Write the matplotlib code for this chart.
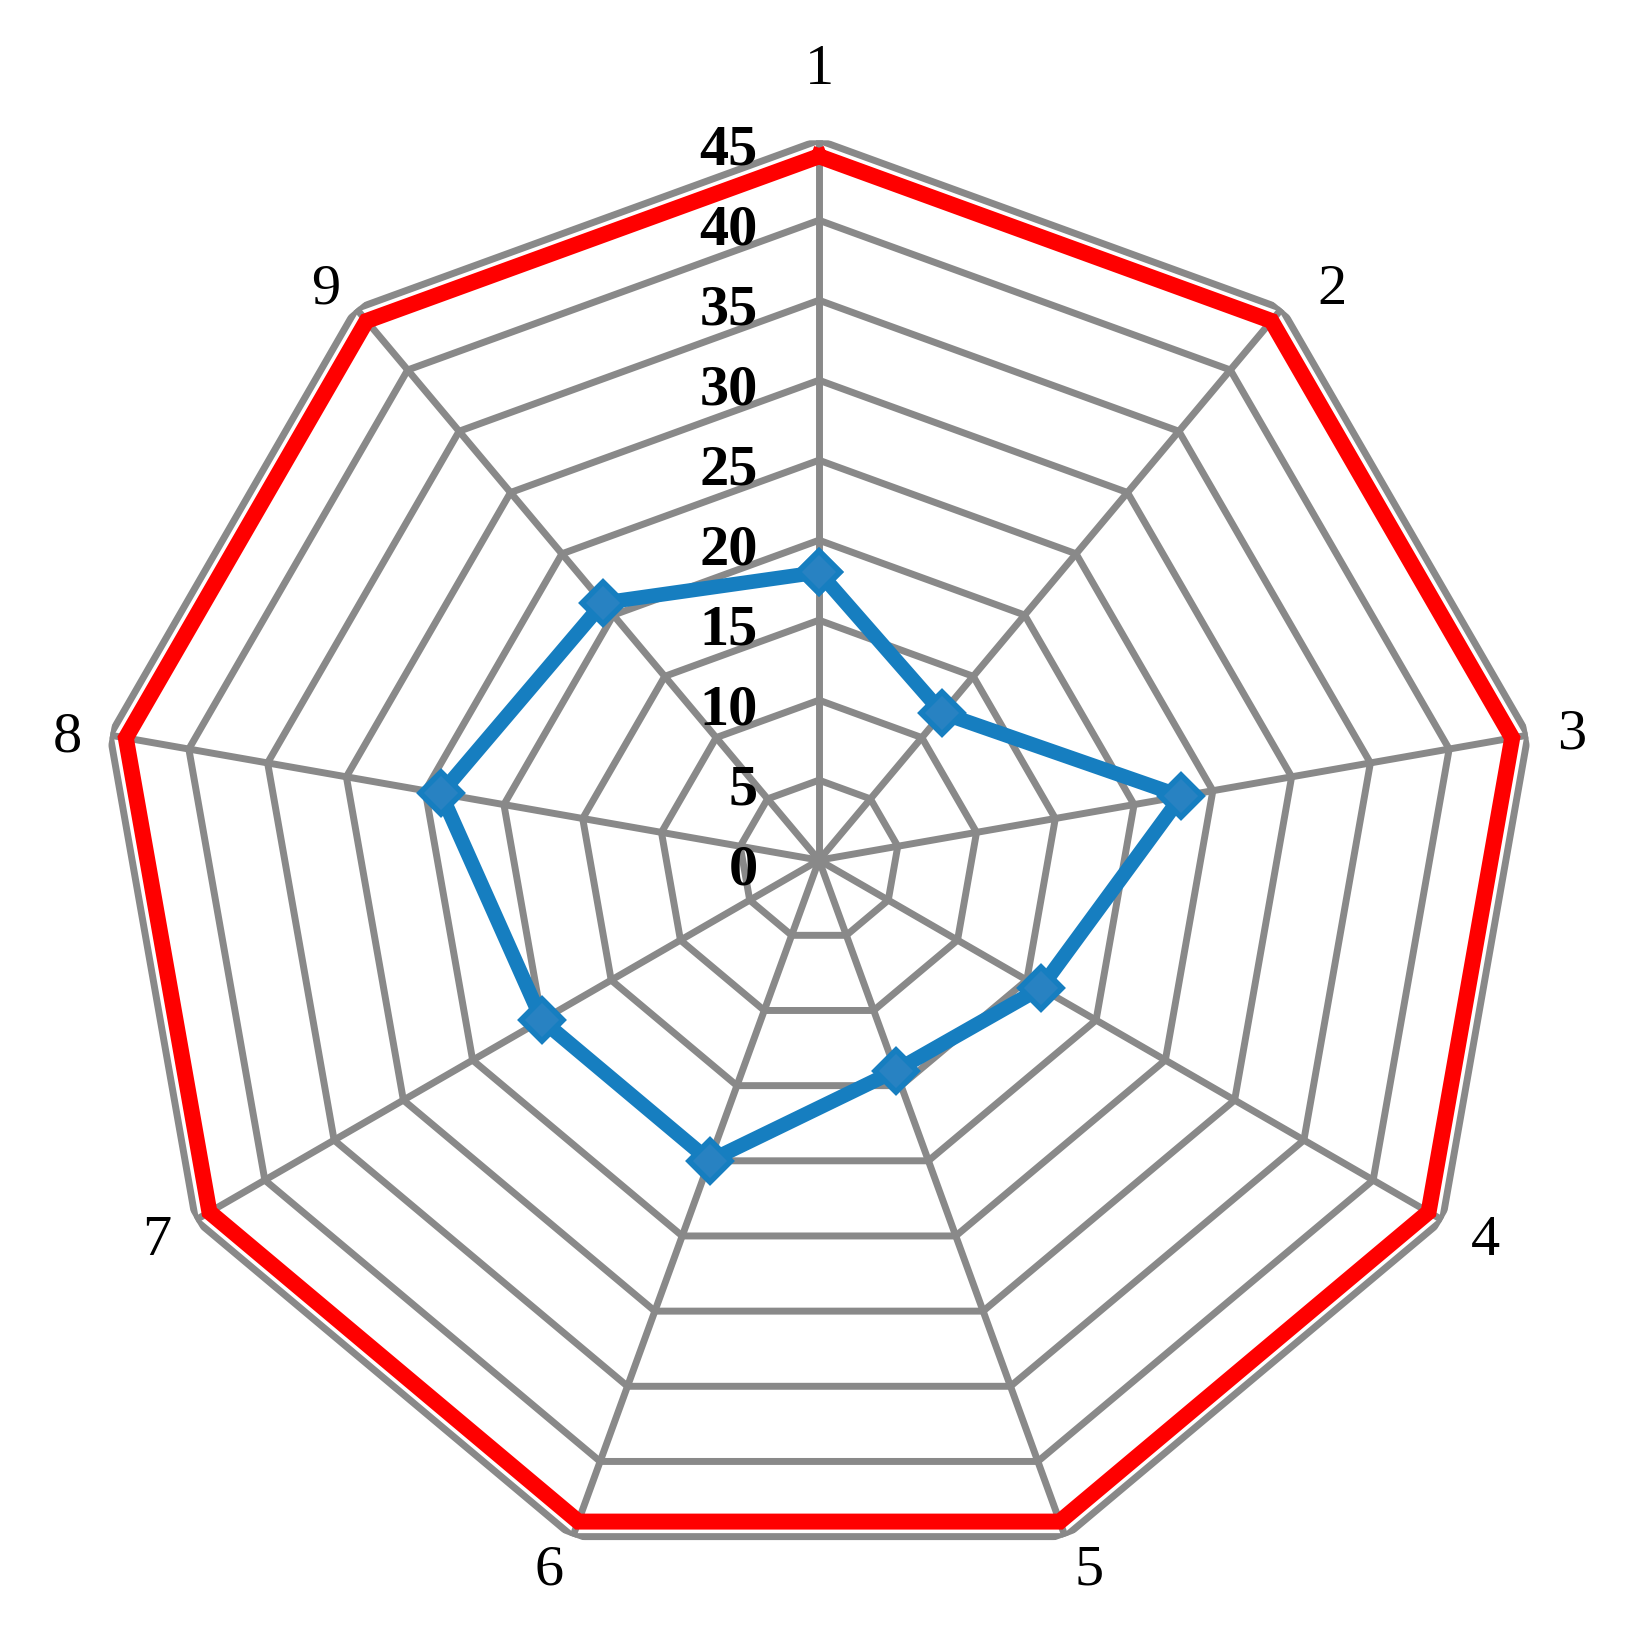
import numpy as np
import matplotlib
matplotlib.use("Agg")
import matplotlib.pyplot as plt
from matplotlib.transforms import offset_copy

# radar chart: 9 categories, scale 0-45
categories = ["1", "2", "3", "4", "5", "6", "7", "8", "9"]
outer_values = [44, 44, 44, 44, 44, 44, 44, 44, 44]
inner_values = [18, 12, 23, 16, 14, 20, 20, 24, 21]
ticks = [0, 5, 10, 15, 20, 25, 30, 35, 40, 45]

plt.rcParams["font.family"] = ["Liberation Serif", "DejaVu Serif"]

fig = plt.figure(figsize=(16.25, 16.28), dpi=100)
ax = fig.add_axes([0.061, 0.0294, 0.886, 0.8845], projection="polar")
ax.set_theta_zero_location("N")
ax.set_theta_direction(-1)
ax.set_ylim(0, 45)
ax.grid(False)
ax.spines["polar"].set_visible(False)
ax.set_xticks([])
ax.set_yticks([])

n = len(categories)
theta = np.linspace(0, 2 * np.pi, n, endpoint=False)
theta_closed = np.append(theta, theta[0])

gray = "#898989"
# polygon gridlines
for r in ticks[1:]:
    ax.plot(theta_closed, [r] * (n + 1), color=gray, lw=5, zorder=1,
            solid_joinstyle="miter")
# spokes
for t in theta:
    ax.plot([t, t], [0, 45], color=gray, lw=5, zorder=1)

# series
ax.plot(theta_closed, outer_values + outer_values[:1], color="#ff0000",
        lw=11.5, zorder=3, solid_joinstyle="miter")
ax.plot(theta_closed, inner_values + inner_values[:1], color="#167ec0",
        lw=10.5, zorder=4, marker="D", markersize=21.5,
        markerfacecolor="#2882c2", markeredgecolor="#167ec0",
        markeredgewidth=4)

# radial tick labels
tick_tr = offset_copy(ax.transData, fig=fig, x=-61, y=-10, units="dots")
for r in ticks:
    ax.text(0, r, str(r), transform=tick_tr, ha="right", va="center",
            fontsize=42, fontweight="bold", color="black", zorder=5)

# category labels, nudged by hand (pixels)
nudges = [(0, -7), (24, -13), (3, -7), (7, 0), (10, 5),
          (-10, 5), (-3, 0), (-2, -10), (-4, -13)]
for i, (t, lab) in enumerate(zip(theta, categories)):
    rl = 49.8 if i == 0 else 47.6
    tr = offset_copy(ax.transData, fig=fig, x=nudges[i][0],
                     y=nudges[i][1], units="dots")
    ax.text(t, rl, lab, transform=tr, ha="center", va="center",
            fontsize=42, color="black")

fig.savefig("out.png", dpi=100)
